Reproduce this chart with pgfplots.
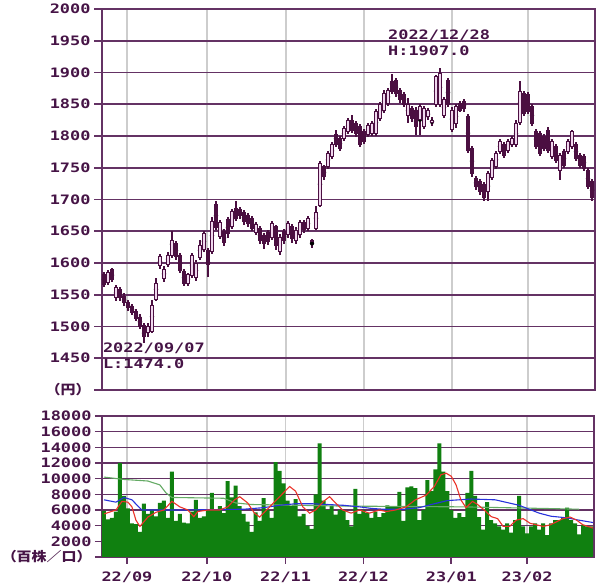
\documentclass[border=0pt]{standalone}
\usepackage{fontspec}
\usepackage{pgfplots}
\usepackage{pgfplotstable}
\pgfplotsset{compat=1.18}
\setmainfont{DejaVu Sans}
\newfontfamily\lab{DejaVu Sans Mono}[FakeStretch=1.3]
\newfontfamily\cjk{Noto Sans CJK JP}[FakeStretch=1.15]
\definecolor{candle}{RGB}{75,15,65}
\definecolor{candlefill}{RGB}{240,215,238}
\definecolor{gridp}{RGB}{100,50,100}
\definecolor{gridg}{RGB}{205,205,205}
\definecolor{txt}{RGB}{70,20,70}
\definecolor{volg}{RGB}{16,128,16}
\definecolor{mared}{RGB}{235,50,40}
\definecolor{mablue}{RGB}{40,50,220}
\definecolor{magreen}{RGB}{100,170,100}

\pgfplotstableread{
i o h l c
0 1582 1586 1562 1566
1 1570 1589 1566 1585
2 1590 1592 1570 1574
3 1545 1566 1540 1562
4 1558 1562 1540 1545
5 1548 1552 1532 1538
6 1538 1541 1525 1530
7 1532 1535 1518 1522
8 1524 1528 1508 1512
9 1515 1519 1496 1500
10 1502 1505 1474 1485
11 1490 1506 1484 1500
12 1492 1542 1489 1533
13 1543 1577 1540 1568
14 1596 1614 1590 1610
15 1576 1596 1570 1590
16 1598 1618 1594 1612
17 1612 1651 1608 1636
18 1630 1634 1605 1610
19 1612 1615 1584 1588
20 1586 1590 1564 1568
21 1568 1585 1564 1582
22 1580 1616 1577 1612
23 1577 1604 1572 1600
24 1608 1636 1604 1628
25 1622 1650 1618 1646
26 1620 1624 1578 1598
27 1618 1672 1614 1666
28 1692 1697 1652 1656
29 1642 1668 1638 1664
30 1649 1653 1626 1632
31 1668 1672 1640 1646
32 1657 1685 1653 1681
33 1686 1697 1666 1670
34 1684 1688 1670 1675
35 1680 1684 1660 1665
36 1675 1679 1656 1662
37 1670 1674 1650 1655
38 1648 1664 1644 1660
39 1655 1658 1630 1636
40 1644 1648 1622 1630
41 1648 1652 1628 1634
42 1641 1666 1637 1662
43 1657 1660 1620 1628
44 1618 1645 1612 1641
45 1650 1654 1630 1635
46 1645 1666 1640 1662
47 1658 1662 1632 1638
48 1636 1656 1630 1652
49 1645 1668 1640 1664
50 1664 1667 1648 1653
51 1655 1674 1650 1670
52 1634 1638 1624 1635
53 1655 1689 1652 1680
54 1691 1760 1688 1757
55 1752 1755 1730 1736
56 1752 1777 1748 1773
57 1767 1790 1763 1786
58 1802 1810 1782 1786
59 1796 1800 1776 1781
60 1796 1816 1792 1812
61 1807 1829 1803 1825
62 1825 1833 1805 1809
63 1820 1824 1798 1804
64 1815 1819 1782 1786
65 1807 1811 1787 1791
66 1802 1821 1798 1817
67 1804 1824 1800 1820
68 1804 1842 1800 1838
69 1828 1853 1824 1849
70 1841 1872 1837 1867
71 1851 1876 1847 1872
72 1886 1898 1866 1870
73 1888 1892 1862 1867
74 1872 1876 1852 1857
75 1865 1869 1845 1849
76 1833 1860 1820 1849
77 1843 1847 1822 1828
78 1841 1845 1802 1815
79 1826 1850 1802 1846
80 1815 1848 1811 1843
81 1830 1844 1825 1840
82 1822 1830 1815 1824
83 1849 1896 1845 1893
84 1850 1907 1846 1898
85 1833 1862 1828 1857
86 1888 1892 1845 1849
87 1810 1846 1807 1841
88 1820 1850 1812 1846
89 1851 1855 1837 1841
90 1854 1858 1838 1843
91 1830 1835 1774 1778
92 1781 1785 1736 1741
93 1733 1737 1715 1720
94 1728 1732 1707 1712
95 1723 1727 1697 1704
96 1712 1745 1697 1741
97 1735 1766 1730 1762
98 1752 1777 1748 1773
99 1775 1796 1771 1791
100 1786 1790 1766 1770
101 1778 1795 1774 1791
102 1786 1800 1782 1796
103 1786 1825 1782 1820
104 1822 1886 1818 1870
105 1867 1871 1832 1836
106 1865 1869 1834 1838
107 1846 1850 1815 1820
108 1807 1811 1779 1783
109 1804 1808 1769 1773
110 1799 1803 1776 1781
111 1809 1814 1774 1778
112 1767 1795 1763 1791
113 1783 1787 1757 1762
114 1746 1774 1731 1770
115 1775 1779 1750 1754
116 1775 1795 1771 1791
117 1783 1810 1779 1807
118 1786 1790 1761 1765
119 1770 1774 1750 1754
120 1767 1771 1745 1749
121 1746 1750 1716 1720
122 1728 1732 1697 1704
}\candles

\pgfplotstableread{
i v
0 5900
1 4800
2 5000
3 5800
4 12000
5 7800
6 6200
7 4300
8 4200
9 3200
10 6800
11 5500
12 6000
13 5200
14 6900
15 7200
16 5000
17 10900
18 4600
19 5500
20 4400
21 4300
22 5800
23 7300
24 5000
25 5200
26 6000
27 8200
28 6000
29 6500
30 5600
31 9700
32 7600
33 9100
34 6500
35 5500
36 4500
37 3200
38 5700
39 4600
40 7500
41 6000
42 5000
43 12100
44 11000
45 9400
46 7200
47 6500
48 7400
49 5200
50 5500
51 4000
52 3600
53 8000
54 14500
55 7200
56 6000
57 6500
58 5400
59 6000
60 6000
61 4700
62 3900
63 8700
64 5500
65 6000
66 5600
67 5000
68 5800
69 5100
70 5600
71 6600
72 6400
73 6400
74 8300
75 4600
76 8900
77 9000
78 8800
79 4700
80 6000
81 9800
82 8400
83 11200
84 14500
85 10900
86 8400
87 6000
88 5000
89 5600
90 5100
91 8200
92 11000
93 7800
94 5100
95 3500
96 7000
97 4700
98 4300
99 3900
100 3500
101 4300
102 3100
103 4700
104 7800
105 3900
106 3000
107 3900
108 4300
109 3500
110 4300
111 2800
112 4300
113 4700
114 4700
115 5100
116 6300
117 4700
118 4300
119 2900
120 4100
121 3900
122 3900
}\vol

\pgfplotsset{
  pricebase/.style={at={(102pt,198pt)}, anchor=south west, scale only axis,
    width=493pt, height=381pt, xmin=-0.5, xmax=122.75, ymin=1400, ymax=2000},
}

\begin{document}
\begin{tikzpicture}
\path[use as bounding box] (0,0) rectangle (600pt,588pt);

% price: frame, grid, wicks, annotations
\begin{axis}[pricebase,
  axis line style={gridp, line width=1.6pt},
  ytick={1400,1450,...,2000},
  yticklabels={{\cjk\bfseries （円）},1450,1500,1550,1600,1650,1700,1750,1800,1850,1900,1950,2000},
  ytick pos=left, tick align=outside, major tick length=8pt,
  ytick style={gridp, line width=1.6pt},
  yticklabel style={font=\fontsize{13pt}{15pt}\selectfont\lab\bfseries, text=txt},
  xtick={5.75,25.75,45.5,65,87,106}, xticklabels={}, xtick style={draw=none},
  ymajorgrids, xmajorgrids,
  y grid style={gridp, line width=1.6pt},
  x grid style={gridg, line width=1.5pt},
]
\addplot[only marks, mark=none, error bars/.cd, y dir=both, y explicit, error mark=none,
  error bar style={candle, line width=1.1pt}]
  table[x=i, y expr={(\thisrow{h}+\thisrow{l})/2}, y error expr={(\thisrow{h}-\thisrow{l})/2}] {\candles};
\node[anchor=north west, inner sep=0pt, align=left, text=txt,
  font=\fontsize{13pt}{16pt}\selectfont\lab\bfseries] at (axis cs:-0.3,1474) {2022/09/07\\L:1474.0};
\node[anchor=north west, inner sep=0pt, align=left, text=txt,
  font=\fontsize{13pt}{16pt}\selectfont\lab\bfseries] at (axis cs:71,1967) {2022/12/28\\H:1907.0};
\end{axis}

% price: candle bodies
\begin{axis}[pricebase, hide axis, ybar stacked, bar width=0.8]
\addplot[draw=none, fill=none] table[x=i, y expr={min(\thisrow{o},\thisrow{c})}] {\candles};
\addplot[draw=candle, fill=candlefill, line width=0.9pt] table[x=i, y expr={max(\thisrow{c}-\thisrow{o},0)}] {\candles};
\addplot[draw=candle, fill=candle, line width=0.9pt] table[x=i, y expr={max(\thisrow{o}-\thisrow{c},0)}] {\candles};
\end{axis}

% volume
\begin{axis}[at={(102pt,31pt)}, anchor=south west, scale only axis,
  width=492pt, height=141pt, xmin=-0.5, xmax=122.75, ymin=0, ymax=18000,
  scaled y ticks=false,
  axis line style={gridp, line width=1.6pt},
  ytick={0,2000,...,18000},
  yticklabels={{\cjk\bfseries （百株／口）},2000,4000,6000,8000,10000,12000,14000,16000,18000},
  ytick pos=left, xtick pos=bottom, tick align=outside, major tick length=7pt,
  tick style={gridp, line width=1.6pt},
  yticklabel style={font=\fontsize{13pt}{15pt}\selectfont\lab\bfseries, text=txt},
  xticklabel style={font=\fontsize{13pt}{15pt}\selectfont\lab\bfseries, text=txt, yshift=-4pt},
  xtick={5.75,25.75,45.5,65,87,106},
  xticklabels={22/09,22/10,22/11,22/12,23/01,23/02},
  ymajorgrids, xmajorgrids,
  y grid style={gridp, line width=1.6pt},
  x grid style={gridg, line width=1.5pt},
]
\addplot[ybar, bar width=1, fill=volg, draw=none] table[x=i, y=v] {\vol};
\addplot[magreen, line width=1.1pt] coordinates {(0,10200)(5,9900)(11,9700)(14,9200)(15.5,8200)(17,7600)(30,7500)(33,6900)(37,6700)(60,6500)(90,6400)(110,6200)(119,6100)};
\addplot[mablue, line width=1.1pt] coordinates {(0,7300)(3,7000)(5,7600)(7,7300)(8.5,6500)(9.5,6000)(20,6000)(35,6100)(40,6300)(44,6600)(48,6800)(52,6800)(56,6700)(60,6600)(64,6400)(67,6200)(70,6100)(75,6100)(79,6300)(82,6700)(86,7200)(92,7400)(98,7300)(104,6600)(109,5600)(112,5200)(116,5000)(119,4700)(122.5,4400)};
\addplot[mared, line width=1.1pt] coordinates {(0,5500)(3,6000)(4.5,7100)(6,7000)(7,6400)(8,4700)(9,3900)(11,5100)(13,5700)(15,6000)(17,7100)(19,6400)(21,6000)(22.5,5150)(23.5,5800)(26,6000)(29,6000)(31,6400)(32.7,7300)(34,7700)(36,6900)(37.7,5600)(39,5100)(41.5,6400)(44,7700)(46.5,9000)(48,8400)(49.8,6400)(51.5,5600)(53,6000)(55,7100)(56.5,7700)(58,6900)(59.8,6000)(61.9,5600)(64,6000)(66.5,5600)(69,6000)(70.7,5800)(73,6000)(75.7,6400)(78,7300)(80.7,7900)(82.75,9000)(84.4,10500)(85.7,10700)(87,10300)(88.2,9200)(89.4,7300)(90.7,6300)(92.3,7100)(93.6,6700)(95.25,6000)(97,5150)(98.6,4900)(100,3900)(101.6,3900)(103.25,4700)(105,4900)(106.75,4300)(108.4,4100)(110,3900)(111.75,4100)(113.4,4500)(115,4900)(116.75,5100)(118.4,4700)(120,4100)(122.5,3700)};
\end{axis}
\end{tikzpicture}
\end{document}
